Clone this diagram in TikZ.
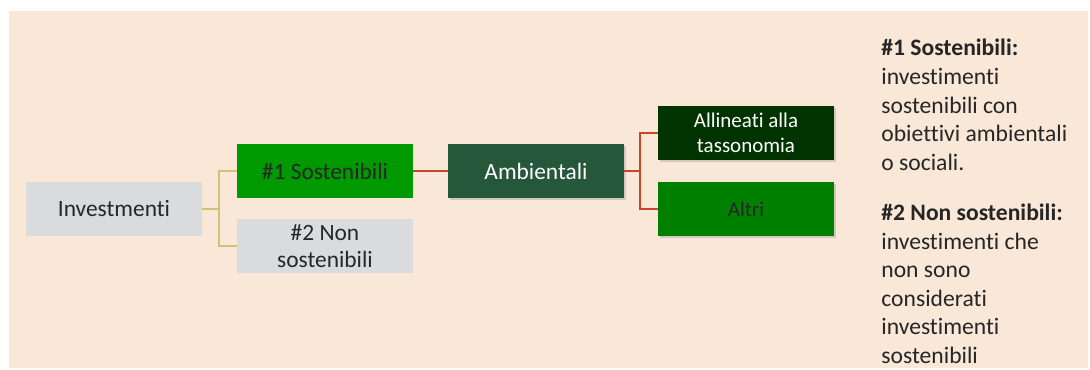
\documentclass[tikz,border=0pt]{standalone}
\usepackage{fontspec}
\setmainfont{Carlito}[Ligatures={NoCommon}]
\usepackage{tikz}
\usetikzlibrary{calc,arrows.meta,positioning,shadows}

\definecolor{achtergrond}{HTML}{F9E7D7}
\definecolor{grijs}{HTML}{DADBDD}
\definecolor{felgroen}{HTML}{009900}
\definecolor{donkergroen}{HTML}{25573B}
\definecolor{bosgroen}{HTML}{003300}
\definecolor{middengroen}{HTML}{008000}
\definecolor{lijngeel}{HTML}{CFC37A}
\definecolor{lijnrood}{HTML}{C8472C}
\definecolor{tekst}{HTML}{262626}

\begin{document}
\begin{tikzpicture}[x=0.5pt, y=-0.5pt, font=\fontsize{11.7}{13.5}\selectfont,
		vak/.style={minimum width=88pt, minimum height=27pt, inner sep=0pt, align=center, text=tekst},
		schaduw/.style={drop shadow={opacity=0.3, shadow xshift=1.2pt, shadow yshift=-1.2pt}},
		klein/.style={font=\fontsize{10.5}{12.5}\selectfont}]
		% Achtergrond en vaste afmetingen
		\useasboundingbox (0,0) rectangle (1090,369);
		\fill[achtergrond] (9,11) rectangle (1088,368);

		% Eerste niveau
		\node[vak, fill=grijs] (invest) at (114,209) {Investmenti};
		\node[vak, fill=felgroen] (sost) at (325,171) {\#1 Sostenibili};
		\node[vak, fill=grijs] (nonsost) at (325,246) {\#2 Non\\sostenibili};

		% Tweede niveau
		\node[vak, schaduw, fill=donkergroen, text=white] (amb) at (536,171) {Ambientali};
		\node[vak, schaduw, klein, fill=bosgroen, text=white] (allin) at (746,133) {Allineati alla\\tassonomia};
		\node[vak, schaduw, klein, fill=middengroen] (altri) at (746,209) {Altri};

		% Verbindingslijnen
		\coordinate (splits1) at (219,209);
		\coordinate (splits2) at (640,171);
		\draw[lijngeel, line width=0.8pt] (invest.east) -- (splits1) |- (sost.west);
		\draw[lijngeel, line width=0.8pt] (splits1) |- (nonsost.west);
		\draw[lijnrood, line width=1pt] (sost.east) -- (amb.west);
		\draw[lijnrood, line width=1pt] (amb.east) -- (splits2) |- (allin.west);
		\draw[lijnrood, line width=1pt] (splits2) |- (altri.west);

		% Toelichting rechts
		\node[anchor=north west, align=left, inner sep=0pt, text=tekst, font=\fontsize{11.8}{14.3}\selectfont] (uitleg) at (881,39)
			{\textbf{\#1 Sostenibili:}\\investimenti\\sostenibili con\\obiettivi ambientali\\o sociali.\\[10.75pt]
			\textbf{\#2 Non sostenibili:}\\investimenti che\\non sono\\considerati\\investimenti\\sostenibili};
	\end{tikzpicture}
\end{document}
